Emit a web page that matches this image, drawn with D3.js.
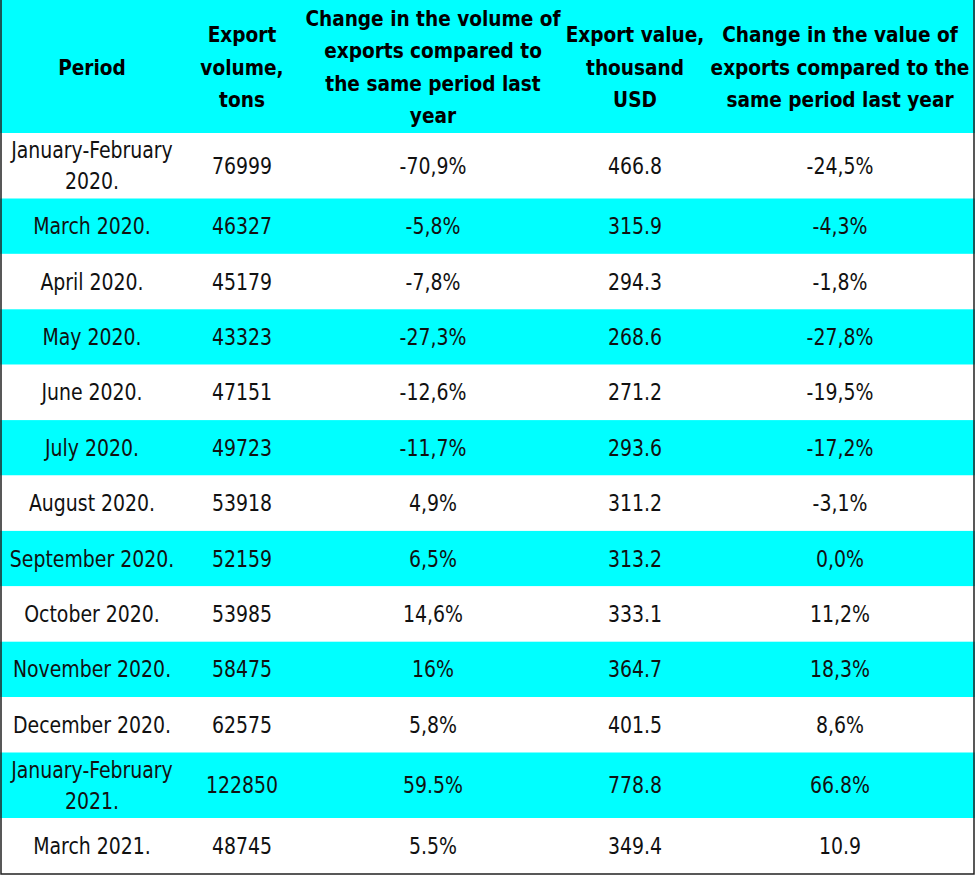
<!DOCTYPE html>
<html>
<head>
<meta charset="utf-8">
<script src="https://cdn.jsdelivr.net/npm/d3@7"></script>
<style>
  html, body { margin: 0; padding: 0; background: #fff; }
  svg { display: block; }
</style>
</head>
<body>
<svg id="chart"></svg>
<script>
const width = 975
const height = 876
const cyan = "#00ffff"
const fontFamily = "Tahoma, 'DejaVu Sans Condensed', 'DejaVu Sans', sans-serif"
const bodyStretch = 1.06   // the original text is a bit taller than wide
const headStretch = 1.02
const lineHeight = 32.3

// table contents
const headers = [
    ["Period"],
    ["Export", "volume,", "tons"],
    ["Change in the volume of", "exports compared to", "the same period last", "year"],
    ["Export value,", "thousand", "USD"],
    ["Change in the value of", "exports compared to the", "same period last year"]
]

const periods = [
    "January-February 2020.", "March 2020.", "April 2020.", "May 2020.", "June 2020.",
    "July 2020.", "August 2020.", "September 2020.", "October 2020.", "November 2020.",
    "December 2020.", "January-February 2021.", "March 2021."
]
const volumes = [76999, 46327, 45179, 43323, 47151, 49723, 53918, 52159, 53985, 58475, 62575, 122850, 48745]
const volumeChange = ["-70,9%", "-5,8%", "-7,8%", "-27,3%", "-12,6%", "-11,7%", "4,9%", "6,5%", "14,6%", "16%", "5,8%", "59.5%", "5.5%"]
const values = [466.8, 315.9, 294.3, 268.6, 271.2, 293.6, 311.2, 313.2, 333.1, 364.7, 401.5, 778.8, 349.4]
const valueChange = ["-24,5%", "-4,3%", "-1,8%", "-27,8%", "-19,5%", "-17,2%", "-3,1%", "0,0%", "11,2%", "18,3%", "8,6%", "66.8%", "10.9"]

// layout
const colCenters = [92, 242, 433, 635, 840]
const headerHeight = 133
const rowHeight = 55.4
const tallRowHeight = 65.5

const svg = d3.select("#chart").attr("width", width).attr("height", height)

// split long period names onto two lines
function periodLines(p) {
    if (p.length > 18) {
        let i = p.lastIndexOf(" ")
        return [p.substring(0, i), p.substring(i + 1)]
    }
    return [p]
}

const rows = periods.map(function (p, i) {
    return {
        cells: [
            periodLines(p),
            [String(volumes[i])],
            [volumeChange[i]],
            [values[i].toFixed(1)],
            [valueChange[i]]
        ]
    }
})

// row tops
let y = headerHeight
rows.forEach(function (r) {
    r.h = r.cells[0].length > 1 ? tallRowHeight : rowHeight
    r.y = y
    y += r.h
})

// header background
svg.append("rect")
    .attr("x", 0).attr("y", 0)
    .attr("width", width).attr("height", headerHeight)
    .attr("fill", cyan)

svg.append("g").selectAll("rect")
    .data(rows)
    .enter().append("rect")
    .attr("x", 0)
    .attr("y", d => d.y)
    .attr("width", width)
    .attr("height", d => d.h)
    .attr("fill", (d, i) => i % 2 === 1 ? cyan : "#fff")

function drawLines(g, lines, cx, cy, bold) {
    let n = lines.length
    let step = bold ? lineHeight : 31
    lines.forEach(function (t, k) {
        let by = cy + 8 + (k - (n - 1) / 2) * step
        g.append("text")
            .attr("transform", "translate(" + cx + "," + by + ") scale(1," + (bold ? headStretch : bodyStretch) + ")")
            .attr("text-anchor", "middle")
            .attr("font-family", fontFamily)
            .attr("font-size", bold ? 20.6 : 21)
            .attr("font-weight", bold ? "bold" : "normal")
            .attr("fill", bold ? "#000" : "#111")
            .text(t)
    })
}

const headG = svg.append("g").attr("class", "header")
headers.forEach(function (lines, c) {
    drawLines(headG, lines, colCenters[c], headerHeight / 2, true)
})

const bodyG = svg.append("g").attr("class", "body")
rows.forEach(function (r) {
    r.cells.forEach(function (lines, c) {
        drawLines(bodyG, lines, colCenters[c], r.y + r.h / 2, false)
    })
})

// outer frame (left, right, bottom)
svg.append("path")
    .attr("d", "M1,0 V874 H974 V0")
    .attr("fill", "none")
    .attr("stroke", "#222")
    .attr("stroke-width", 1.5)
</script>
</body>
</html>
